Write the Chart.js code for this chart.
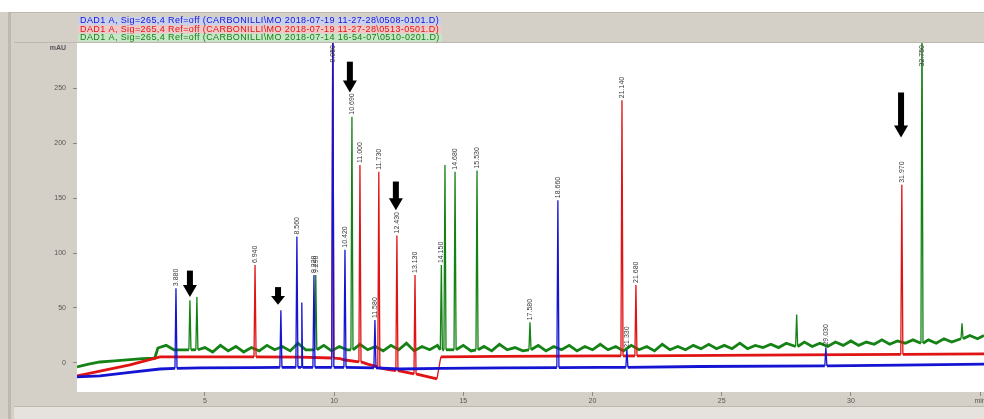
<!DOCTYPE html>
<html>
<head>
<meta charset="utf-8">
<script src="https://cdn.jsdelivr.net/npm/chart.js@4/dist/chart.umd.min.js"></script>
<style>
  html, body { margin: 0; padding: 0; background: #d4d0c8; }
  #wrap { width: 984px; height: 419px; position: relative; }
</style>
</head>
<body>
<div id="wrap"><canvas id="chrom" width="984" height="419"></canvas></div>
<script>
// header lines of the three overlaid runs
const headerLines = [
  'DAD1 A, Sig=265,4 Ref=off (CARBONILLI\\MO 2018-07-19 11-27-28\\0508-0101.D)',
  'DAD1 A, Sig=265,4 Ref=off (CARBONILLI\\MO 2018-07-19 11-27-28\\0513-0501.D)',
  'DAD1 A, Sig=265,4 Ref=off (CARBONILLI\\MO 2018-07-14 16-54-07\\0510-0201.D)'
];
const traceColors = ['#1414d2', '#e01414', '#148214'];

// [time (min), absorbance (mAU)]
const blueTrace = [
  [0.05,-12.7],[0.94,-11.8],[2.1,-8.5],[3.26,-5.5],
  [3.84,-5],[3.88,68],[3.92,-5],
  [4.81,-4.5],[6.74,-4.2],
  [7.90,-4],[7.94,48],[7.98,-4],
  [8.52,-4],[8.56,115],[8.60,-4],
  [8.72,-4],[8.75,55],[8.78,-4],
  [9.18,-4],[9.22,80],[9.26,-4],
  [9.91,-4],[9.95,330],[9.99,-4],
  [10.38,-4],[10.42,103],[10.46,-4],
  [11.54,-4.5],[11.58,39],[11.62,-4.5],
  [12.55,-5.5],[14.13,-5],[16.42,-4.5],
  [18.62,-4.2],[18.66,148],[18.70,-4.2],
  [20.29,-4],
  [21.29,-4],[21.33,12],[21.37,-4],
  [24.16,-3.2],
  [28.99,-2.7],[29.03,14],[29.07,-2.7],
  [31.9,-2],[35.15,-1]
];

const redTrace = [
  [0.05,-11.8],[2.1,-1.8],[3.26,5.5],[4.81,5.5],
  [6.90,5.5],[6.94,89],[6.98,5.5],
  [8.68,5.3],
  [9.91,4.5],[9.95,330],[9.99,4.5],
  [10.23,4],[10.42,2.7],
  [10.96,1],[11.0,180],[11.04,1],
  [11.30,-1],
  [11.69,-3.5],[11.73,174],[11.77,-4.5],
  [12.1,-6],
  [12.39,-7],[12.43,116],[12.47,-7],
  [13.09,-10],[13.13,80],[13.17,-10],
  [13.32,-10.9],[13.98,-14.5],[14.13,5.5],
  [16.42,6],[20.29,6.4],
  [21.10,6.4],[21.14,239],[21.18,6.4],
  [21.64,6.4],[21.68,71],[21.72,6.4],
  [28.03,7.3],
  [31.93,7.8],[31.97,162],[32.01,7.8],
  [35.15,8.2]
];

const greenTrace = [
  [0.05,-3.6],[0.5,-1],[0.94,0.9],[1.5,2],[2.1,3],[2.6,4],[3.06,4.5],[3.18,13.6],[3.5,16],[3.8,12],
  [4.38,12],[4.42,57],[4.46,12],
  [4.65,12],[4.69,60],[4.73,12],
  [5.0,14],[5.3,10],[5.6,16],[5.9,11],[6.2,15],[6.5,10],[6.8,14],[7.1,11],[7.4,16],[7.7,12],
  [8.0,15],[8.3,11],[8.6,18],[8.9,12],
  [9.25,12],[9.29,80],[9.33,12],
  [9.6,16],[9.9,11],[10.2,15],[10.5,12],
  [10.65,12],[10.69,224],[10.73,12],
  [11.0,17],[11.3,12],[11.6,15],[11.9,11],[12.2,16],[12.5,12],[12.8,18],[13.1,11],[13.4,15],[13.7,12],[14.0,16],
  [14.11,12],[14.15,89],[14.19,12],
  [14.25,12],[14.29,180],[14.33,12],
  [14.64,12],[14.68,174],[14.72,12],
  [15.0,16],[15.3,11],
  [15.49,12],[15.53,175],[15.57,12],
  [15.8,15],[16.1,11],[16.4,17],[16.7,12],[17.0,14],[17.3,11],
  [17.54,12],[17.58,37],[17.62,12],
  [17.9,16],[18.2,11],[18.5,15],[18.8,12],[19.1,16],[19.4,11],[19.7,15],[20.0,12],[20.3,17],[20.6,12],
  [20.9,15],[21.2,11],[21.5,16],[21.8,12],[22.1,15],[22.4,11],[22.7,17],[23.0,12],[23.3,15],[23.6,12],
  [23.9,16],[24.2,13],[24.5,17],[24.8,13],[25.1,16],[25.4,13],[25.7,18],[26.0,13],[26.3,16],[26.6,14],
  [26.9,17],[27.2,14],[27.5,18],
  [27.86,15],[27.9,44],[27.94,15],
  [28.2,19],[28.5,15],[28.8,18],[29.1,15],[29.4,19],[29.7,16],[30.0,20],[30.3,16],[30.6,19],[30.9,17],
  [31.2,21],[31.5,17],[31.8,20],[32.1,18],[32.4,21],
  [32.71,18],[32.75,320],[32.79,18],
  [33.0,21],[33.3,18],[33.6,22],[33.9,19],
  [34.26,22],[34.3,36],[34.34,22],
  [34.6,25],[34.9,22],[35.15,25]
];

// peaks that carry a retention time label [time, apex]
const labelPeaks = [
  [3.88,68],[8.56,115],[9.22,80],[10.42,103],[11.58,39],[18.66,148],[21.33,12],[29.03,14],
  [6.94,89],[9.95,330],[11.0,180],[11.73,174],[12.43,116],[13.13,80],[21.14,239],[21.68,71],[31.97,162],
  [9.29,80],[10.69,224],[14.15,89],[14.68,174],[15.53,175],[17.58,37],[32.75,320]
];

// black arrows [time, top, tip]
const arrowMarks = [
  [4.42,84,60],[7.83,69,53],[10.61,274,246],[12.39,165,139],[31.94,246,205]
];

const toXY = (arr) => arr.map(p => ({ x: p[0], y: p[1] }));

const backdrop = {
  id: 'backdrop',
  beforeDraw(chart) {
    const ctx = chart.ctx;
    const a = chart.chartArea;
    ctx.save();
    ctx.fillStyle = '#d4d0c8';
    ctx.fillRect(0, 0, chart.width, chart.height);
    ctx.fillStyle = '#ffffff';
    ctx.fillRect(0, 0, chart.width, 12);
    // frame lines
    ctx.fillStyle = '#bdb9b1';
    ctx.fillRect(8, 12, 3, chart.height - 12);
    ctx.fillRect(8, 12, chart.width - 8, 1);
    ctx.fillRect(14, 42, chart.width - 14, 1);
    ctx.fillRect(14, 406, chart.width - 14, 1);
    ctx.fillStyle = '#e6e3de';
    ctx.fillRect(14, 407, chart.width - 14, 12);
    // header lines
    const tints = ['#c9d0ec', '#f0c8c8', '#c8e6c8'];
    ctx.font = '9px "Liberation Sans", Arial, sans-serif';
    ctx.letterSpacing = '0.4px';
    ctx.textBaseline = 'middle';
    headerLines.forEach((t, i) => {
      const y = 21 + i * 8.3;
      const w = ctx.measureText(t).width;
      ctx.fillStyle = tints[i];
      ctx.fillRect(78, y - 4, w + 4, 8);
      ctx.fillStyle = traceColors[i];
      ctx.fillText(t, 80, y);
    });
    ctx.letterSpacing = '0px';
    // plot area
    ctx.fillStyle = '#ffffff';
    ctx.fillRect(a.left, a.top, a.right - a.left, a.bottom - a.top);
    // unit on y axis
    ctx.fillStyle = '#555';
    ctx.font = 'bold 7px "Liberation Sans", Arial, sans-serif';
    ctx.textAlign = 'right';
    ctx.fillText('mAU', 66, 48);
    ctx.restore();
  }
};

const annotations = {
  id: 'annotations',
  afterDatasetsDraw(chart) {
    const ctx = chart.ctx;
    const xs = chart.scales.x, ys = chart.scales.y;
    const a = chart.chartArea;
    ctx.save();
    // retention time labels, rotated
    ctx.font = '7px "Liberation Sans", Arial, sans-serif';
    ctx.fillStyle = '#3a3a3a';
    ctx.textBaseline = 'middle';
    ctx.textAlign = 'left';
    labelPeaks.forEach(p => {
      const txt = p[0].toFixed(3);
      const w = ctx.measureText(txt).width;
      const px = xs.getPixelForValue(p[0]);
      let py = ys.getPixelForValue(p[1]) - 2;
      if (py - w < a.top + 2) py = a.top + 2 + w;
      ctx.save();
      ctx.translate(px, py);
      ctx.rotate(-Math.PI / 2);
      ctx.fillText(txt, 0, 0);
      ctx.restore();
    });
    // arrows
    ctx.fillStyle = '#000';
    arrowMarks.forEach(m => {
      const px = xs.getPixelForValue(m[0]);
      const top = ys.getPixelForValue(m[1]);
      const tip = ys.getPixelForValue(m[2]);
      const head = Math.min(12, (tip - top) * 0.5);
      ctx.fillRect(px - 3, top, 6, tip - top - head + 1);
      ctx.beginPath();
      ctx.moveTo(px - 7, tip - head);
      ctx.lineTo(px + 7, tip - head);
      ctx.lineTo(px, tip);
      ctx.closePath();
      ctx.fill();
    });
    ctx.restore();
  }
};

// thin lines for peak flanks, thick for the noisy baseline
const segWidth = (c) => Math.abs(c.p1.parsed.y - c.p0.parsed.y) > 12 ? 1.3 : 2.8;

new Chart(document.getElementById('chrom'), {
  type: 'line',
  data: {
    datasets: [blueTrace, redTrace, greenTrace].map((tr, i) => ({
      data: toXY(tr),
      borderColor: traceColors[i],
      borderWidth: 2,
      segment: { borderWidth: segWidth },
      pointRadius: 0,
      tension: 0,
      fill: false
    }))
  },
  options: {
    responsive: false,
    animation: false,
    parsing: false,
    layout: { padding: { top: 43, left: 0, right: 0, bottom: 0 } },
    plugins: { legend: { display: false }, tooltip: { enabled: false } },
    scales: {
      x: {
        type: 'linear',
        min: 0.05,
        max: 35.15,
        afterFit: (s) => { s.height = 27; s.paddingRight = 0; s.paddingLeft = 0; },
        border: { display: false },
        grid: { drawOnChartArea: false, tickLength: 4, color: '#8a8a8a' },
        ticks: {
          stepSize: 5,
          includeBounds: false,
          maxRotation: 0,
          padding: 1,
          color: '#555',
          font: { size: 7, family: '"Liberation Sans", Arial, sans-serif' },
          callback: (v) => (v === 35 ? 'min' : v)
        }
      },
      y: {
        min: -26.4,
        max: 291,
        afterFit: (s) => { s.width = 77; },
        border: { display: false },
        grid: { drawOnChartArea: false, tickLength: 4, color: '#8a8a8a' },
        ticks: {
          stepSize: 50,
          includeBounds: false,
          padding: 7,
          color: '#555',
          font: { size: 7, family: '"Liberation Sans", Arial, sans-serif' }
        }
      }
    }
  },
  plugins: [backdrop, annotations]
});
</script>
</body>
</html>
